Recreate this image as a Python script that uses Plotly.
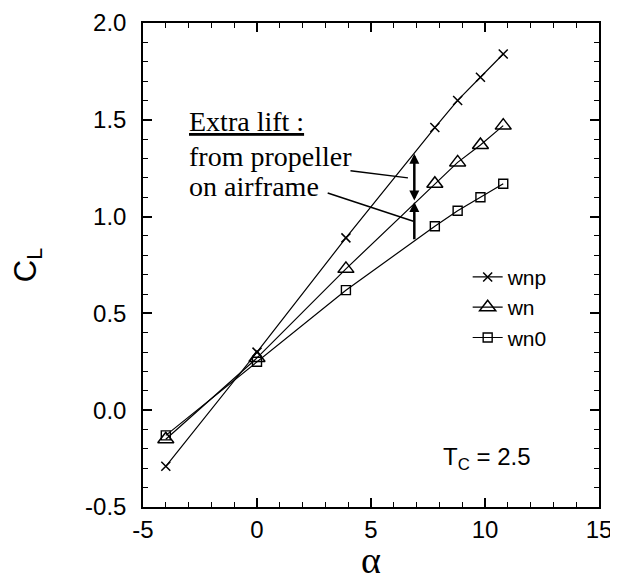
import plotly.graph_objects as go

# ---- data ----
alpha_wnp = [-4.0, 0.0, 3.9, 7.8, 8.8, 9.8, 10.8]
cl_wnp = [-0.29, 0.30, 0.89, 1.46, 1.60, 1.72, 1.84]

alpha_wn = [-4.0, 0.0, 3.9, 7.8, 8.8, 9.8, 10.8]
cl_wn = [-0.15, 0.27, 0.73, 1.17, 1.28, 1.37, 1.47]

alpha_wn0 = [-4.0, 0.0, 3.9, 7.8, 8.8, 9.8, 10.8]
cl_wn0 = [-0.13, 0.25, 0.62, 0.95, 1.03, 1.10, 1.17]

series_names = ["wnp", "wn", "wn0"]

x_tickvals = [-5, 0, 5, 10, 15]
x_ticktext = ["-5", "0", "5", "10", "15"]
y_tickvals = [-0.5, 0.0, 0.5, 1.0, 1.5, 2.0]
y_ticktext = ["-0.5", "0.0", "0.5", "1.0", "1.5", "2.0"]

# annotation anchors (data coords)
arrow_alpha = 6.9
arrow_cl_top = 1.325
arrow_cl_mid = 1.075
arrow_cl_bot = 0.875

text_alpha = -3.05
text_lines = ["<u>Extra lift :</u>", "from propeller", "on airframe"]
text_cl = [1.49, 1.31, 1.155]

leader1 = ((4.1, 1.237), (6.62, 1.200))
leader2 = ((3.1, 1.122), (6.86, 0.976))

tc_label = "T<sub>C</sub> = 2.5"
tc_pos = (10.1, -0.25)

x_range = [-5, 15]
y_range = [-0.5, 2.0]

fig = go.Figure()

fig.add_trace(go.Scatter(
    x=alpha_wnp, y=cl_wnp, name=series_names[0], mode="lines+markers",
    line=dict(color="black", width=1.2),
    marker=dict(symbol="x-thin", size=9, line=dict(color="black", width=1.5), color="black"),
))
fig.add_trace(go.Scatter(
    x=alpha_wn, y=cl_wn, name=series_names[1], mode="lines+markers",
    line=dict(color="black", width=1.2),
    marker=dict(symbol="triangle-up-open", size=14, color="black", line=dict(width=1.5)),
))
fig.add_trace(go.Scatter(
    x=alpha_wn0, y=cl_wn0, name=series_names[2], mode="lines+markers",
    line=dict(color="black", width=1.2),
    marker=dict(symbol="square-open", size=9, color="black", line=dict(width=1.4)),
))

annotations = []
for t, yv in zip(text_lines, text_cl):
    annotations.append(dict(
        x=text_alpha, y=yv, xref="x", yref="y", text=t, showarrow=False,
        xanchor="left", yanchor="middle",
        font=dict(family="Liberation Serif", size=28, color="black"),
    ))
annotations.append(dict(
    x=arrow_alpha, y=arrow_cl_top, ax=arrow_alpha, ay=arrow_cl_mid,
    xref="x", yref="y", axref="x", ayref="y", text="", showarrow=True,
    arrowhead=2, startarrowhead=2, arrowside="end+start", arrowsize=0.8, arrowwidth=2.5,
    arrowcolor="black",
))
annotations.append(dict(
    x=arrow_alpha, y=arrow_cl_mid, ax=arrow_alpha, ay=arrow_cl_bot,
    xref="x", yref="y", axref="x", ayref="y", text="", showarrow=True,
    arrowhead=2, arrowside="end", arrowsize=0.8, arrowwidth=2.5,
    arrowcolor="black",
))
annotations.append(dict(
    x=tc_pos[0], y=tc_pos[1], xref="x", yref="y", text=tc_label, showarrow=False,
    font=dict(family="Liberation Sans", size=24, color="black"),
))

shapes = []
for (p0, p1) in (leader1, leader2):
    shapes.append(dict(type="line", xref="x", yref="y",
                       x0=p0[0], y0=p0[1], x1=p1[0], y1=p1[1],
                       line=dict(color="black", width=1.5)))

axis_common = dict(
    automargin=False,
    showgrid=False, zeroline=False, showline=True, linecolor="black", linewidth=1.5,
    mirror="allticks", ticks="inside", ticklen=9, tickwidth=1.5, tickcolor="black",
    tickfont=dict(family="Liberation Sans", size=24, color="black"),
)

# figure is 610x573 so that, with the page's 8px body margin, it fills the 618x581 window
fig.update_layout(
    template="none",
    width=610, height=573,
    margin=dict(l=135, r=19, t=15, b=74, autoexpand=False),
    paper_bgcolor="white", plot_bgcolor="white",
    showlegend=True,
    legend=dict(x=0.712, y=0.517, xanchor="left", yanchor="top",
                bgcolor="rgba(0,0,0,0)", font=dict(family="Liberation Sans", size=21, color="black"),
                tracegroupgap=0),
    annotations=annotations,
    shapes=shapes,
    xaxis=dict(range=x_range, tickmode="array", tickvals=x_tickvals, ticktext=x_ticktext,
               minor=dict(dtick=1, tick0=0, ticklen=5, tickwidth=1.2, ticks="inside", tickcolor="black"),
               title=dict(text="α", font=dict(family="Liberation Serif", size=38, color="black"), standoff=10),
               ticklabelstandoff=0,
               **axis_common),
    yaxis=dict(range=y_range, tickmode="array", tickvals=y_tickvals, ticktext=y_ticktext,
               minor=dict(dtick=0.1, tick0=0, ticklen=5, tickwidth=1.2, ticks="inside", tickcolor="black"),
               title=dict(text="C<sub>L</sub>", font=dict(family="Liberation Sans", size=31, color="black"), standoff=46),
               ticklabelstandoff=10,
               **axis_common),
)

fig.write_html("out.html")
